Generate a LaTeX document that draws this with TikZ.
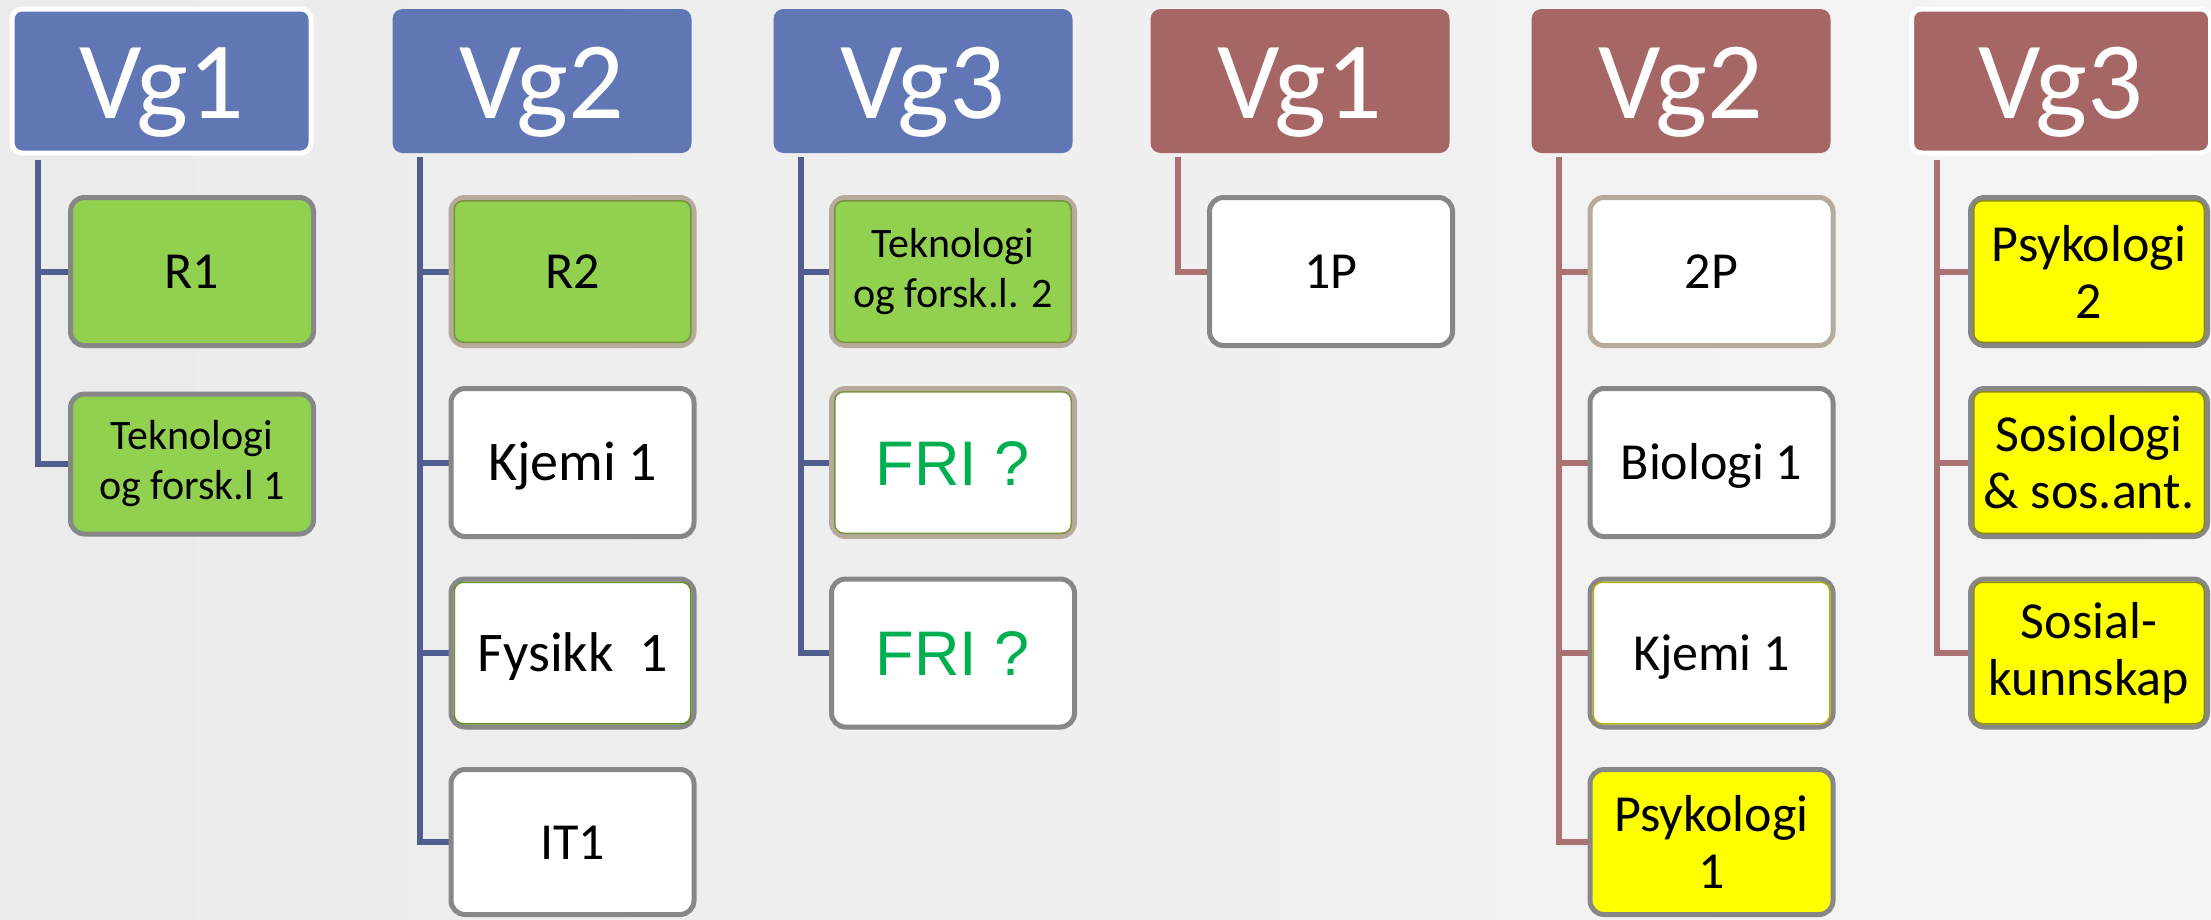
\documentclass[tikz,border=0pt]{standalone}
\usepackage{fontspec}
\usetikzlibrary{backgrounds}
\setmainfont{Carlito}
\newfontfamily\arialfont{Liberation Sans}
\definecolor{hblue}{HTML}{6176B4}
\definecolor{hred}{HTML}{A66666}
\definecolor{lblue}{HTML}{4F5E8F}
\definecolor{lred}{HTML}{AA7272}
\definecolor{fgreen}{HTML}{92D050}
\definecolor{fyellow}{HTML}{FFFF00}
\definecolor{bgray}{HTML}{878787}
\definecolor{btan}{HTML}{B5AA9C}
\definecolor{frigreen}{HTML}{00B050}
\definecolor{inolive}{HTML}{77933C}
\definecolor{ingreen}{HTML}{5E8F2A}
\definecolor{inyellow}{HTML}{B8B000}
\definecolor{indark}{HTML}{8A8A1E}
\begin{document}
\begin{tikzpicture}[x=1pt,y=-1pt,
  hdr/.style={rectangle, rounded corners=10pt, inner sep=0pt, minimum width=299pt,
    minimum height=144pt, text=white, font=\fontsize{110}{116}\selectfont,
    text height=80pt, text depth=6pt},
  hb/.style={hdr, fill=hblue},
  hr/.style={hdr, fill=hred},
  glow/.style={draw=white, line width=5pt},
  kid/.style={rectangle, rounded corners=14pt, draw=bgray, line width=5pt, inner sep=0pt,
    minimum width=243pt, minimum height=148pt, align=center, fill=white, text=black},
  one/.style={font=\fontsize{52}{57}\selectfont, text height=34pt, text depth=0pt},
  onebig/.style={font=\fontsize{56}{60}\selectfont, text height=36pt, text depth=0pt},
  two/.style={font=\fontsize{52}{57}\selectfont},
  tek/.style={font=\fontsize{42}{50}\selectfont},
  fri/.style={font=\arialfont\fontsize{63}{66}\selectfont, text=frigreen, text height=45pt, text depth=0pt},
  green/.style={fill=fgreen},
  yel/.style={fill=fyellow},
  tan/.style={draw=btan},
  last/.style={minimum height=145pt},
  c6/.style={minimum width=237pt},
  connb/.style={draw=lblue, line width=6pt},
  connr/.style={draw=lred, line width=6pt},
  inline/.style={draw=#1, line width=1.5pt, rounded corners=9pt}
]
\useasboundingbox (0,0) rectangle (2211,919);

% headers
\node[hb, glow, fill=hblue] (h1) at (161.5,81) {Vg1};
\node[hb] (h2) at (542,81) {Vg2};
\node[hb] (h3) at (923,81) {Vg3};
\node[hr] (h4) at (1300,81) {Vg1};
\node[hr] (h5) at (1681,81) {Vg2};
\node[hr, glow, fill=hred] (h6) at (2061,81) {Vg3};

% column 1
\node[kid, green, one] (c11) at (192,271.5) {R1};
\node[kid, green, tek, minimum height=140pt] (c12) at (192,464) {Teknologi\\og forsk.l 1};
% column 2
\node[kid, green, tan, one] (c21) at (572.5,271.5) {R2};
\node[kid, onebig] (c22) at (572.5,462.5) {Kjemi 1};
\node[kid, onebig] (c23) at (572.5,653) {Fysikk\ \ 1};
\node[kid, one, last] (c24) at (572.5,842) {IT1};
% column 3
\node[kid, green, tan, tek] (c31) at (953,271.5) {Teknologi\\og forsk.l. 2};
\node[kid, tan, fri] (c32) at (953,462.5) {FRI ?};
\node[kid, fri] (c33) at (953,653) {FRI ?};
% column 4
\node[kid, one] (c41) at (1331,271.5) {1P};
% column 5
\node[kid, tan, one] (c51) at (1711.5,271.5) {2P};
\node[kid, one] (c52) at (1711.5,462.5) {Biologi 1};
\node[kid, one] (c53) at (1711.5,653) {Kjemi 1};
\node[kid, yel, two, last] (c54) at (1711.5,842) {Psykologi\\1};
% column 6
\node[kid, yel, two, c6] (c61) at (2089,271.5) {Psykologi\\2};
\node[kid, yel, two, c6] (c62) at (2089,462.5) {Sosiologi\\\& sos.ant.};
\node[kid, yel, two, c6] (c63) at (2089,653) {Sosial-\\kunnskap};

% inner border lines
\foreach \n/\col in {c21/inolive, c31/inolive, c32/inolive, c23/ingreen, c53/inyellow, c61/indark, c62/indark, c63/indark}{
  \draw[inline=\col] ([shift={(5.75pt,-5.75pt)}]\n.north west) rectangle ([shift={(-5.75pt,5.75pt)}]\n.south east);
}

% background and connectors
\begin{scope}[on background layer]
\shade[left color=black!8, middle color=white, right color=black!4] (0,0) rectangle (2211,919);
\foreach \h/\c in {h1/c11,h1/c12,h2/c21,h2/c22,h2/c23,h2/c24,h3/c31,h3/c32,h3/c33}{
  \draw[connb] ([xshift=28pt,yshift=-4pt]\h.south west) |- (\c.west);
}
\foreach \h/\c in {h4/c41,h5/c51,h5/c52,h5/c53,h5/c54,h6/c61,h6/c62,h6/c63}{
  \draw[connr] ([xshift=28pt,yshift=-4pt]\h.south west) |- (\c.west);
}
\end{scope}
\end{tikzpicture}
\end{document}
